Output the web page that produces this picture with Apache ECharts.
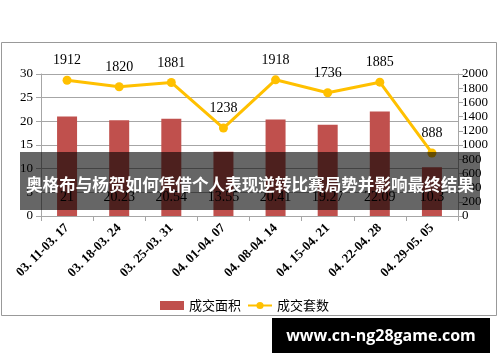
<!DOCTYPE html>
<html>
<head>
<meta charset="utf-8">
<script src="https://cdn.jsdelivr.net/npm/echarts@6/dist/echarts.min.js"></script>
<style>html,body{margin:0;padding:0;background:#fff}#c{width:500px;height:362px}</style>
</head>
<body>
<div id="c"></div>
<script>
var categories = ['03.11-03.17','03.18-03.24','03.25-03.31','04.01-04.07','04.08-04.14','04.15-04.21','04.22-04.28','04.29-05.05'];
var areaValues = [21, 20.23, 20.54, 13.55, 20.41, 19.27, 22.09, 10.3];
var countValues = [1912, 1820, 1881, 1238, 1918, 1736, 1885, 888];
var seriesNames = ['成交面积', '成交套数'];
var titleText = '奥格布与杨贺如何凭借个人表现逆转比赛局势并影响最终结果';
var watermarkText = 'www.cn-ng28game.com';

var chart = echarts.init(document.getElementById('c'), null, {renderer: 'canvas'});
var serif = '"Liberation Serif", "Noto Sans CJK SC", serif';
var option = {
  animation: false,
  backgroundColor: '#fff',
  grid: {left: 41, right: 42, top: 74, bottom: 146},
  legend: {
    data: [
      {name: seriesNames[0], icon: 'rect'},
      {name: seriesNames[1]}
    ],
    left: 155, top: 294,
    itemWidth: 24, itemHeight: 9, itemGap: 6,
    textStyle: {fontFamily: '"Noto Sans CJK SC"', fontSize: 13, color: '#000'}
  },
  xAxis: {
    type: 'category', data: categories,
    axisLine: {lineStyle: {color: '#a6a6a6'}},
    axisTick: {show: true, length: 5, lineStyle: {color: '#a6a6a6'}},
    axisLabel: {rotate: 45, interval: 0, color: '#000', fontFamily: serif, fontSize: 13, fontWeight: 'bold', margin: 10,
      formatter: function (v) { return v.replace(/\./g, '. '); }}
  },
  yAxis: [
    {type: 'value', min: 0, max: 30, interval: 5,
     axisLine: {show: true, lineStyle: {color: '#a6a6a6'}},
     axisTick: {show: true, length: 5, lineStyle: {color: '#a6a6a6'}},
     splitLine: {lineStyle: {color: '#a6a6a6'}},
     axisLabel: {color: '#000', fontFamily: serif, fontSize: 13, margin: 8}},
    {type: 'value', min: 0, max: 2000, interval: 200,
     axisLine: {show: true, lineStyle: {color: '#a6a6a6'}},
     axisTick: {show: true, length: 5, lineStyle: {color: '#a6a6a6'}},
     splitLine: {show: false},
     axisLabel: {color: '#000', fontFamily: serif, fontSize: 13, margin: 4,
       formatter: function (v) { return String(v); }}}
  ],
  series: [
    {name: seriesNames[0], type: 'bar', data: areaValues, yAxisIndex: 0, barWidth: 20,
     itemStyle: {color: '#c0504d'},
     label: {show: true, position: 'insideBottom', distance: 12, color: '#000', fontFamily: serif, fontSize: 14}},
    {name: seriesNames[1], type: 'line', data: countValues, yAxisIndex: 1,
     symbol: 'circle', symbolSize: 9,
     lineStyle: {color: '#ffc000', width: 3}, itemStyle: {color: '#ffc000'},
     label: {show: true, position: 'top', distance: 8, color: '#000', fontFamily: serif, fontSize: 14}}
  ],
  graphic: [
    {type: 'rect', shape: {x: 1.5, y: 42.5, width: 495, height: 273}, style: {fill: null, stroke: '#999', lineWidth: 1}, z: -1},
    {type: 'rect', shape: {x: 20, y: 152, width: 460, height: 58}, style: {fill: 'rgba(0,0,0,0.6)'}, z: 100},
    {type: 'text', x: 250, y: 185, style: {text: titleText, fill: '#fff', font: 'bold 16.6px "Noto Sans CJK SC"', textAlign: 'center', textVerticalAlign: 'middle'}, z: 101},
    {type: 'rect', shape: {x: 272, y: 318, width: 218, height: 35}, style: {fill: '#000'}, z: 100},
    {type: 'text', x: 381, y: 336, style: {text: watermarkText, fill: '#fff', font: 'bold 16px "Open Sans", "DejaVu Sans", sans-serif', textAlign: 'center', textVerticalAlign: 'middle'}, z: 101}
  ]
};
chart.setOption(option);
</script>
</body>
</html>
